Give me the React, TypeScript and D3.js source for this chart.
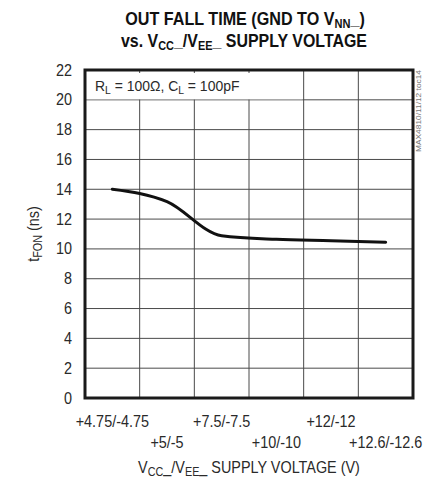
import React, { useEffect, useRef } from 'react'
import * as d3 from 'd3'

// supply voltage categories (one column each)
const supplyLabels = ['+4.75/-4.75', '+5/-5', '+7.5/-7.5', '+10/-10', '+12/-12', '+12.6/-12.6']

// fall time (ns) read at each supply voltage
const fallTime = [14.0, 13.17, 10.88, 10.64, 10.55, 10.45]

const yTicks = [0, 2, 4, 6, 8, 10, 12, 14, 16, 18, 20, 22]

const W = 423
const H = 478
const FONT = "'Liberation Sans', Arial, sans-serif"
const SX = 0.9

export default function App() {
  const svgRef = useRef<SVGSVGElement>(null)

  useEffect(() => {
    if (!svgRef.current) return
    const svg = d3.select(svgRef.current)
    svg.selectAll('*').remove()

    const left = 85, right = 413, top = 70, bottom = 398

    const x = d3.scaleBand<string>().domain(supplyLabels).range([left, right]).padding(0)
    const bw = x.bandwidth()
    const cx = (d: string) => (x(d) as number) + bw / 2
    const y = d3.scaleLinear().domain([0, 22]).range([bottom, top])

    // narrow text helper
    const label = (parent: any, px: number, py: number, size: number, anchor = 'middle', sx = SX) =>
      parent.append('g')
        .attr('transform', `translate(${px},${py}) scale(${sx},1)`)
        .append('text')
        .attr('text-anchor', anchor)
        .attr('font-family', FONT).attr('font-size', size).attr('fill', '#2a2a2a')

    svg.append('rect').attr('width', W).attr('height', H).attr('fill', '#fff')

    // grid
    const grid = svg.append('g').attr('stroke', '#4a4a4a').attr('stroke-width', 1)
    grid.selectAll('line.h')
      .data(yTicks.slice(1, -1))
      .join('line')
      .attr('x1', left).attr('x2', right)
      .attr('y1', d => y(d)).attr('y2', d => y(d))
    grid.selectAll('line.v')
      .data(supplyLabels.slice(1))
      .join('line')
      .attr('x1', d => x(d) as number).attr('x2', d => x(d) as number)
      .attr('y1', top).attr('y2', bottom)

    // condition label box
    svg.append('rect')
      .attr('x', left + 1).attr('y', top + 3)
      .attr('width', (x(supplyLabels[4]) as number) - left - 2).attr('height', y(20) - top - 3.5)
      .attr('fill', '#fff')
    const cond = label(svg, left + 10, 91, 15.5, 'start')
    cond.append('tspan').text('R')
    cond.append('tspan').text('L').attr('font-size', 11.5).attr('dy', 3)
    cond.append('tspan').text(' = 100\u03A9, C').attr('dy', -3)
    cond.append('tspan').text('L').attr('font-size', 11.5).attr('dy', 3)
    cond.append('tspan').text(' = 100pF').attr('dy', -3)

    // curve
    const line = d3.line<number>()
      .x((_, i) => cx(supplyLabels[i]))
      .y(d => y(d))
      .curve(d3.curveMonotoneX)
    svg.append('path')
      .attr('d', line(fallTime))
      .attr('fill', 'none')
      .attr('stroke', '#111')
      .attr('stroke-width', 3)
      .attr('stroke-linecap', 'round')

    // frame
    svg.append('rect')
      .attr('x', left).attr('y', top)
      .attr('width', right - left).attr('height', bottom - top)
      .attr('fill', 'none').attr('stroke', '#1a1a1a').attr('stroke-width', 3)

    // y ticks
    yTicks.forEach(d => {
      label(svg, left - 13, y(d) + 5.5, 16, 'end').text(d)
    })

    // x ticks, staggered
    supplyLabels.forEach((d, i) => {
      label(svg, cx(d), i % 2 === 0 ? 427 : 448, 16).text(d)
    })

    // x title
    const xt = label(svg, (left + right) / 2, 473, 16)
    xt.append('tspan').text('V')
    xt.append('tspan').text('CC').attr('font-size', 12).attr('dy', 3)
    xt.append('tspan').text('_/V').attr('dy', -3)
    xt.append('tspan').text('EE').attr('font-size', 12).attr('dy', 3)
    xt.append('tspan').text('_ SUPPLY VOLTAGE (V)').attr('dy', -3)

    // y title
    const yt = svg.append('g')
      .attr('transform', `translate(39,${y(11)}) rotate(-90) scale(${SX},1)`)
      .append('text')
      .attr('text-anchor', 'middle')
      .attr('font-family', FONT).attr('font-size', 16).attr('fill', '#2a2a2a')
    yt.append('tspan').text('t')
    yt.append('tspan').text('FON').attr('font-size', 12).attr('dy', 3)
    yt.append('tspan').text(' (ns)').attr('dy', -3)

    // title (heavy, condensed)
    const t1 = label(svg, 245, 25, 19, 'middle', 0.85)
      .attr('font-weight', 'bold').attr('fill', '#111')
    t1.append('tspan').text('OUT FALL TIME (GND TO V')
    t1.append('tspan').text('NN').attr('font-size', 13).attr('dy', 3)
    t1.append('tspan').text('_)').attr('dy', -3)
    const t2 = label(svg, 244, 47, 19, 'middle', 0.84)
      .attr('font-weight', 'bold').attr('fill', '#111')
    t2.append('tspan').text('vs. V')
    t2.append('tspan').text('CC').attr('font-size', 13).attr('dy', 3)
    t2.append('tspan').text('_/V').attr('dy', -3)
    t2.append('tspan').text('EE').attr('font-size', 13).attr('dy', 3)
    t2.append('tspan').text('_ SUPPLY VOLTAGE').attr('dy', -3)

    // side id
    svg.append('text')
      .attr('transform', `translate(421,152) rotate(-90)`)
      .attr('font-family', FONT).attr('font-size', 6.5).attr('fill', '#777')
      .attr('textLength', 82).attr('lengthAdjust', 'spacingAndGlyphs')
      .text('MAX4810/11/12 toc14')
  }, [])

  return (
    <svg
      ref={svgRef}
      width={W}
      height={H}
      style={{ position: 'absolute', left: 0, top: 0 }}
    />
  )
}
